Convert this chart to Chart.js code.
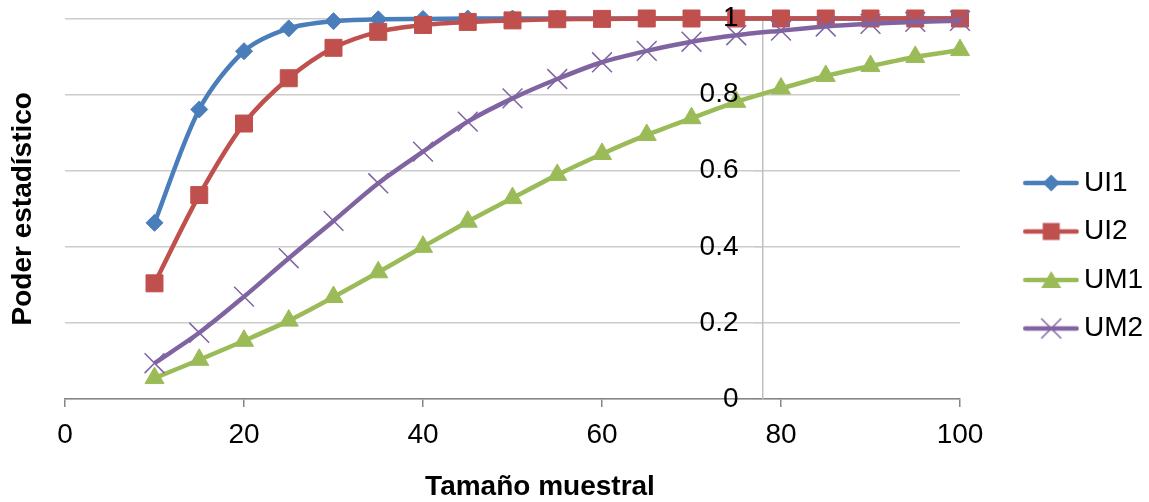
<!DOCTYPE html>
<html lang="es">
<head>
<meta charset="utf-8">
<title>Poder estadístico según tamaño muestral</title>
<script src="https://cdn.jsdelivr.net/npm/chart.js@4.4.1/dist/chart.umd.min.js"></script>
<style>
  html, body { margin: 0; padding: 0; background: #ffffff; }
  #marco { width: 1149px; height: 502px; }
</style>
</head>
<body>
<div id="marco"><canvas id="grafico" width="1149" height="502"></canvas></div>
<script>
// Tamaños muestrales evaluados
const tamanos = [10, 15, 20, 25, 30, 35, 40, 45, 50, 55, 60, 65, 70, 75, 80, 85, 90, 95, 100];

// Poder estadístico de cada prueba
const ui1 = [0.463, 0.761, 0.914, 0.974, 0.993, 0.998, 0.999, 1, 1, 1, 1, 1, 1, 1, 1, 1, 1, 1, 1];
const ui2 = [0.304, 0.536, 0.724, 0.843, 0.923, 0.965, 0.983, 0.991, 0.995, 0.998, 0.999, 1, 1, 1, 1, 1, 1, 1, 1];
const um1 = [0.055, 0.103, 0.153, 0.206, 0.268, 0.333, 0.400, 0.466, 0.528, 0.589, 0.644, 0.694, 0.738, 0.781, 0.816, 0.849, 0.875, 0.899, 0.917];
const um2 = [0.094, 0.174, 0.269, 0.370, 0.468, 0.567, 0.650, 0.729, 0.790, 0.841, 0.885, 0.915, 0.939, 0.956, 0.968, 0.979, 0.986, 0.991, 0.994];

const nombres = ['UI1', 'UI2', 'UM1', 'UM2'];
const series = [ui1, ui2, um1, um2];

// Ejes: el eje vertical cruza al horizontal en x = 78
const ejeX = { min: 0, max: 100, paso: 20 };
const ejeY = { min: 0, max: 1, paso: 0.2, cruceX: 78, etiquetasX: 75.25 };
const tituloX = 'Tamaño muestral';
const tituloY = 'Poder estadístico';

const colores = ['#4A7EBB', '#C0504D', '#9BBB59', '#8064A2'];
const formas = ['rectRot', 'rect', 'triangle', 'crossRot'];
const radios = [8.5, 12, 11, 14];

const fuente = "'Liberation Sans', Arial, Helvetica, sans-serif";
Chart.defaults.font.family = fuente;
Chart.defaults.color = '#000000';

// Símbolo de la leyenda: tramo de línea con el marcador al centro
function simboloLeyenda(color, forma) {
  const c = document.createElement('canvas');
  c.width = 108; c.height = 28;
  const g = c.getContext('2d');
  const cy = 14, cx = 80;
  g.strokeStyle = color;
  g.fillStyle = color;
  g.lineWidth = 4.5;
  g.lineCap = 'round';
  g.beginPath(); g.moveTo(54, cy); g.lineTo(105.5, cy); g.stroke();
  g.lineCap = 'butt';
  g.beginPath();
  if (forma === 'rectRot') {
    g.moveTo(cx, cy - 8.5); g.lineTo(cx + 8.5, cy); g.lineTo(cx, cy + 8.5); g.lineTo(cx - 8.5, cy);
    g.closePath(); g.fill();
  } else if (forma === 'rect') {
    g.rect(cx - 8.5, cy - 8.5, 17, 17); g.fill();
  } else if (forma === 'triangle') {
    g.moveTo(cx, cy - 9); g.lineTo(cx + 10, cy + 8); g.lineTo(cx - 10, cy + 8);
    g.closePath(); g.fill();
  } else {
    g.lineWidth = 1.5;
    g.moveTo(cx - 10, cy - 10); g.lineTo(cx + 10, cy + 10);
    g.moveTo(cx + 10, cy - 10); g.lineTo(cx - 10, cy + 10);
    g.stroke();
  }
  return c;
}
const simbolos = colores.map((col, i) => simboloLeyenda(col, formas[i]));

const datasets = series.map((valores, i) => ({
  label: nombres[i],
  data: tamanos.map((t, k) => ({ x: t, y: valores[k] })),
  borderColor: colores[i],
  backgroundColor: colores[i],
  borderWidth: 4.5,
  tension: 0.3,
  pointStyle: formas[i],
  pointRadius: radios[i],
  pointHoverRadius: radios[i],
  pointBackgroundColor: colores[i],
  pointBorderColor: colores[i],
  pointBorderWidth: formas[i] === 'crossRot' ? 1.5 : 1,
  order: series.length - i,
  clip: false,
  yAxisID: 'y',
  xAxisID: 'x'
}));

new Chart(document.getElementById('grafico'), {
  type: 'line',
  data: { datasets },
  options: {
    responsive: false,
    animation: false,
    locale: 'en-US',
    devicePixelRatio: 1,
    layout: { padding: { top: 10, right: 0, bottom: 0.5, left: -69 } },
    scales: {
      x: {
        type: 'linear',
        position: 'bottom',
        min: ejeX.min,
        max: ejeX.max,
        ticks: { stepSize: ejeX.paso, font: { size: 28 }, color: '#000', padding: 11.2, maxRotation: 0 },
        grid: { drawOnChartArea: false, drawTicks: true, tickLength: 8, color: '#868686', lineWidth: 1.5 },
        border: { color: '#868686', width: 1.5 }
      },
      // Eje vertical: líneas de cuadrícula y línea del eje
      y: {
        type: 'linear',
        position: { x: ejeY.cruceX },
        min: ejeY.min,
        max: ejeY.max,
        ticks: { stepSize: ejeY.paso, display: false },
        grid: { color: '#cccccc', lineWidth: 1.5, tickLength: 8, tickColor: '#cccccc' },
        border: { color: '#c0c0c0', width: 1.5 }
      },
      // Rótulos del eje vertical, a la izquierda del cruce
      yRotulos: {
        type: 'linear',
        axis: 'y',
        position: { x: ejeY.etiquetasX },
        min: ejeY.min,
        max: ejeY.max,
        ticks: {
          stepSize: ejeY.paso,
          font: { size: 28 },
          color: '#000',
          padding: 1.7,
          z: 1,
          format: { minimumFractionDigits: 0, maximumFractionDigits: 1 }
        },
        grid: { display: false, drawTicks: false },
        border: { display: false }
      },
      yTitulo: {
        type: 'linear',
        axis: 'y',
        position: 'left',
        display: true,
        ticks: { display: false },
        grid: { display: false, drawTicks: false },
        border: { display: false },
        title: {
          display: true,
          text: tituloY,
          color: '#000',
          font: { size: 28, weight: 'bold', lineHeight: 1.2 },
          padding: { top: 75, bottom: 25.4 }
        }
      }
    },
    plugins: {
      tooltip: { enabled: false },
      title: {
        display: true,
        position: 'bottom',
        text: tituloX,
        color: '#000',
        font: { size: 28, weight: 'bold', lineHeight: 1 },
        padding: { top: 10.5, bottom: 0 }
      },
      legend: {
        display: true,
        position: 'right',
        align: 'center',
        maxWidth: 189,
        labels: {
          usePointStyle: true,
          pointStyleWidth: 89.5,
          padding: 20.5,
          color: '#000',
          font: { size: 28 },
          generateLabels(chart) {
            return chart.data.datasets.map((ds, i) => ({
              text: ds.label,
              pointStyle: simbolos[i],
              fillStyle: ds.borderColor,
              strokeStyle: ds.borderColor,
              lineWidth: 0,
              fontColor: '#000',
              hidden: !chart.isDatasetVisible(i),
              datasetIndex: i
            }));
          }
        }
      }
    }
  }
});
</script>
</body>
</html>
